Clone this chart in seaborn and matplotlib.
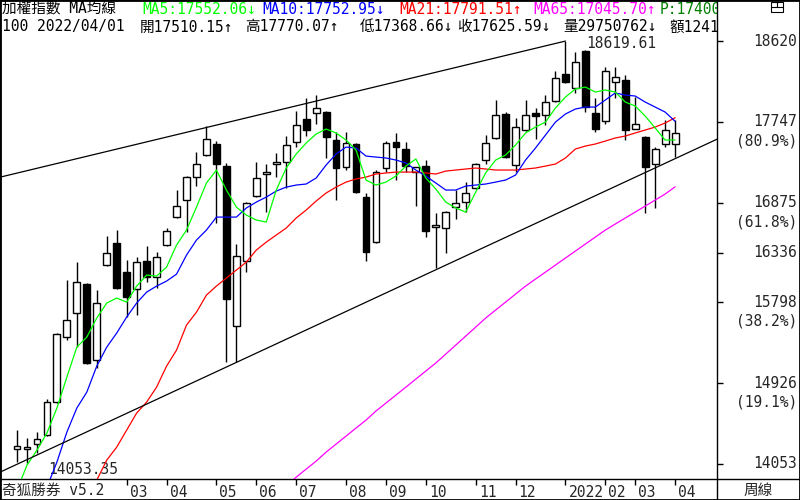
import matplotlib
matplotlib.use("Agg")
import matplotlib.pyplot as plt
import matplotlib.transforms as mtransforms
from matplotlib.patches import Rectangle
from matplotlib.lines import Line2D
import numpy as np
import seaborn as sns

# weekly candles of the TAIEX (加權指數), 2020/12/25 .. 2022/04/01
opens = [14214, 14220, 14268, 14365, 14721, 15423, 15683, 15996, 15175, 16201,
         16439, 16125, 15942, 16244, 16071, 16417, 16719, 16903, 17151, 17389,
         17508, 17270, 15542, 16244, 16946, 17184, 17292, 17313, 17529, 17778,
         17843, 17853, 17551, 17259, 17508, 16935, 16449, 17249, 17529, 17454,
         17205, 17270, 16611, 16601, 16827, 16881, 17033, 17335, 17573, 17832,
         17281, 17659, 17843, 17821, 17972, 18264, 18113, 18512, 17843, 17756,
         18177, 18199, 17670, 17583, 17292, 17508, 17510.15]
highs = [14419, 14333, 14397, 14754, 15470, 16039, 16233, 16010, 15931, 16514,
         16579, 16255, 16287, 16406, 16341, 16601, 17011, 17160, 17421, 17702,
         17540, 17303, 16428, 16880, 17313, 17292, 17411, 17594, 17864, 18005,
         18037, 17860, 17637, 17637, 17515, 16979, 17227, 17540, 17627, 17529,
         17265, 17335, 16763, 16780, 17011, 17097, 17300, 17605, 17983, 17853,
         17789, 17983, 17897, 18037, 18296, 18619.61, 18501, 18523, 18005, 18339,
         18339, 18253, 18015, 17590, 17475, 17767, 17770.07]
lows = [14073, 14053.35, 14171, 14355, 14710, 15391, 15315, 15130, 15089, 16190,
        15945, 15639, 15661, 16017, 15953, 16410, 16710, 16557, 17054, 17380,
        16655, 15153, 15158, 16125, 16940, 16773, 17151, 17033, 17475, 17594,
        17724, 17357, 16903, 17227, 16980, 16244, 16440, 17205, 17119, 17205,
        16838, 16503, 16169, 16331, 16698, 16773, 17025, 17292, 17565, 17360,
        17205, 17650, 17562, 17713, 17965, 18167, 18059, 17853, 17637, 17724,
        18005, 17551, 17665, 16763, 16817, 17475, 17368.66]
closes = [14246, 14235, 14322, 14721, 15456, 15607, 16017, 15143, 15791, 16331,
          15953, 15855, 16233, 16071, 16287, 16568, 16838, 17151, 17292, 17562,
          17292, 15834, 16298, 16871, 17141, 17205, 17313, 17497, 17713, 17659,
          17897, 17583, 17249, 17519, 16989, 16341, 17205, 17519, 17475, 17270,
          17259, 16568, 16633, 16773, 16871, 16979, 17292, 17519, 17821, 17367,
          17691, 17821, 17810, 17961, 18221, 18177, 18393, 17907, 17670, 18296,
          18231, 17659, 17724, 17259, 17454, 17659, 17625.59]

# moving averages as drawn (each series ends at the last week)
ma5 = [13771, 14041, 14203, 14387, 14657, 14991, 15315, 15423, 15629, 15791,
       15845, 15801, 15974, 16093, 16082, 16179, 16417, 16579, 16827, 17087,
       17227, 17011, 16827, 16741, 16687, 16665, 17011, 17249, 17400, 17519,
       17616, 17670, 17627, 17551, 17443, 17119, 17065, 17097, 17162, 17270,
       17346, 17141, 17022, 16881, 16817, 16773, 16989, 17195, 17335, 17389,
       17497, 17627, 17691, 17745, 17897, 18015, 18102, 18123, 18069, 18091,
       18069, 17961, 17918, 17810, 17681, 17551, 17552.06]
ma10 = [13533, 13803, 14073, 14397, 14657, 14829, 15110, 15315, 15467, 15640,
        15791, 15909, 15974, 16028, 16103, 16309, 16471, 16579, 16719, 16719,
        16719, 16817, 16881, 16935, 17000, 17043, 17065, 17076, 17141, 17281,
        17400, 17475, 17465, 17378, 17367, 17357, 17335, 17303, 17227, 17162,
        17087, 17011, 17011, 17054, 17065, 17076, 17097, 17119, 17173, 17335,
        17465, 17605, 17745, 17832, 17886, 17907, 17907, 17983, 18059, 18037,
        18026, 17961, 17907, 17853, 17752.95]
ma21 = [13609, 13879, 14095, 14235, 14419, 14603, 14721, 14883, 15110, 15283,
        15553, 15693, 15877, 15974, 16061, 16147, 16233, 16363, 16449, 16525,
        16601, 16709, 16795, 16892, 16979, 17043, 17097, 17130, 17151, 17184,
        17195, 17205, 17205, 17205, 17195, 17184, 17216, 17227, 17238, 17249,
        17238, 17227, 17227, 17227, 17238, 17249, 17270, 17292, 17357, 17454,
        17486, 17508, 17540, 17573, 17594, 17627, 17659, 17691, 17735, 17791.51]
ma65 = [13814, 13911, 13998, 14084, 14181, 14268, 14354, 14441, 14527, 14625,
        14711, 14797, 14883, 14970, 15057, 15143, 15240, 15337, 15434, 15531,
        15629, 15715, 15801, 15888, 15974, 16050, 16125, 16201, 16277, 16352,
        16428, 16503, 16579, 16644, 16709, 16773, 16838, 16903, 16968, 17045.70]

# trend lines (week index, price)
trend_up_x = [-1.7, 55]
trend_up_y = [17150, 18619.61]
trend_lo_x = [-1.7, 70.2]
trend_lo_y = [13965, 17560]

# month marks under the candles
month_pos = [11, 15, 20, 24, 28, 33, 37, 41, 46, 50, 55, 59, 62, 66]
month_labels = ['03', '04', '05', '06', '07', '08', '09', '10', '11', '12',
                '2022', '02', '03', '04']

# price scale (fibonacci levels between low and high)
fib_levels = [18620, 17747, 16875, 16336, 15798, 14926, 14053]
fib_pct = ['', '(80.9%)', '(61.8%)', '', '(38.2%)', '(19.1%)', '']

header1 = [('加權指數 MA均線', 'black'), ('MA5:17552.06↓', '#00ff00'),
           ('MA10:17752.95↓', '#0000ff'), ('MA21:17791.51↑', '#ff0000'),
           ('MA65:17045.70↑', '#ff00ff'), ('P:17400.00', '#008000')]
header1_x = [2, 142, 262, 399, 533, 660]
header2 = ['100 2022/04/01', '開17510.15↑', '高17770.07↑', '低17368.66↓',
           '收17625.59↓', '量29750762↓', '額1241.35']
header2_x = [2, 140, 245, 360, 457, 563, 670]

sns.set_style("white")
plt.rcParams['font.family'] = ['DejaVu Sans Mono', 'Noto Sans CJK TC']
FS = 10.5

W, H = 800, 500
fig = plt.figure(figsize=(8, 5), dpi=100)
ax = fig.add_axes([0, 21 / H, 717 / W, 479 / H])
n = len(closes)
x = np.arange(n)

# candles
ax.vlines(x, lows, highs, color='black', lw=1, zorder=2)
o = np.array(opens)
c = np.array(closes)
fill = np.where(c >= o, 'white', 'black')
ax.bar(x, np.abs(c - o), bottom=np.minimum(o, c), width=0.68,
       color=fill, edgecolor='black', linewidth=1, zorder=3)

# moving averages
for vals, col in [(ma65, '#ff00ff'), (ma21, '#ff0000'),
                  (ma10, '#0000ff'), (ma5, '#00ff00')]:
    sns.lineplot(x=np.arange(n - len(vals), n), y=vals, color=col,
                 lw=0.9, ax=ax, zorder=4)

ax.plot(trend_up_x, trend_up_y, color='black', lw=0.9, zorder=4)
ax.plot(trend_lo_x, trend_lo_y, color='black', lw=0.9, zorder=4)

# high / low notes
hi = int(np.argmax(highs))
lo = int(np.argmin(lows))
ax.annotate(f'{highs[hi]:.2f}', xy=(hi, highs[hi]), xytext=(21, -2),
            textcoords='offset pixels', ha='left', va='center', fontsize=FS,
            arrowprops=dict(arrowstyle='-', lw=0.8, shrinkA=0, shrinkB=0))
ax.annotate(f'{lows[lo]:.2f}', xy=(lo, lows[lo]), xytext=(21, -6),
            textcoords='offset pixels', ha='left', va='center', fontsize=FS,
            arrowprops=dict(arrowstyle='-', lw=0.8, shrinkA=0, shrinkB=0))

ax.set_xlim(-1.705, 70.2)
ax.set_ylim(13891, 19063)

for sp in ax.spines.values():
    sp.set_color('black')
    sp.set_linewidth(1)

# right price scale
ax.yaxis.set_ticks_position('right')
ax.set_yticks(fib_levels)
ax.tick_params(axis='y', direction='out', length=4, width=1, color='black',
               right=True, left=False, labelright=False, labelleft=False)
blend = mtransforms.blended_transform_factory(ax.transAxes, ax.transData)
down = mtransforms.ScaledTranslation(0, -19 / 100, fig.dpi_scale_trans)
for lev, pct in zip(fib_levels, fib_pct):
    ax.text(797 / 717, lev, str(lev), transform=blend, ha='right',
            va='center', fontsize=FS, clip_on=False)
    if pct:
        ax.text(797 / 717, lev, pct, transform=blend + down, ha='right',
                va='center', fontsize=FS, clip_on=False)

# month axis
ax.set_xticks(month_pos)
ax.set_xticklabels(month_labels, fontsize=FS)
ax.tick_params(axis='x', direction='out', length=4, width=1, color='black',
               bottom=True, pad=0)
shift = mtransforms.ScaledTranslation(3 / 100, 0, fig.dpi_scale_trans)
for lab in ax.get_xticklabels():
    lab.set_horizontalalignment('left')
    lab.set_transform(lab.get_transform() + shift)

# header lines
for (s, col), px in zip(header1, header1_x):
    ax.text(px / 717, 1 - 9 / 479, s, transform=ax.transAxes, color=col,
            ha='left', va='center', fontsize=FS, clip_on=True)
for s, px in zip(header2, header2_x):
    ax.text(px / 717, 1 - 27 / 479, s, transform=ax.transAxes, color='black',
            ha='left', va='center', fontsize=FS, clip_on=True)

# bottom band and frame
fig.text(2 / W, 10 / H, '奇狐勝券 v5.2', ha='left', va='center', fontsize=FS)
fig.text(758 / W, 10 / H, '周線', ha='center', va='center', fontsize=FS)
fig.add_artist(Line2D([717 / W, 717 / W], [0, 21 / H], color='black', lw=1))
fig.add_artist(Line2D([717 / W, 1], [21 / H, 21 / H], color='black', lw=1))
fig.add_artist(Rectangle((0, 0), 1, 1, transform=fig.transFigure,
                         fill=False, ec='black', lw=2))
# window icon in the corner
fig.add_artist(Rectangle((771 / W, 1 - 12 / H), 12 / W, 10 / H,
                         transform=fig.transFigure, fill=False, ec='black',
                         lw=0.8))
fig.add_artist(Line2D([771 / W, 783 / W], [1 - 7 / H, 1 - 7 / H],
                      color='black', lw=0.8))
fig.add_artist(Line2D([777 / W, 777 / W], [1 - 7 / H, 1 - 2 / H],
                      color='black', lw=0.8))

fig.savefig('out.png', dpi=100)
